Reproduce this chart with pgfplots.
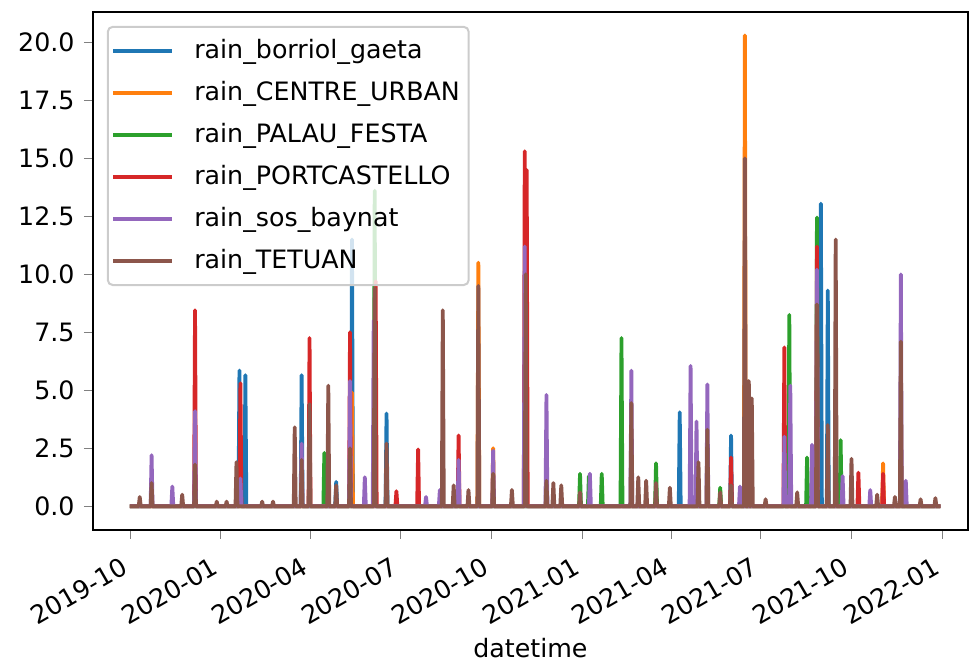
\documentclass[border=0pt]{standalone}
\usepackage{fontspec}
\setmainfont{DejaVu Sans}
\usepackage{pgfplots}
\pgfplotsset{compat=1.18}

% tab10 palette
\definecolor{c0}{HTML}{1F77B4}
\definecolor{c1}{HTML}{FF7F0E}
\definecolor{c2}{HTML}{2CA02C}
\definecolor{c3}{HTML}{D62728}
\definecolor{c4}{HTML}{9467BD}
\definecolor{c5}{HTML}{8C564B}
\definecolor{legframe}{gray}{0.8}

% short horizontal stroke as legend sample, with room before the text
\pgfplotsset{legend image code/.code={\draw[#1, line width=1.5pt] (0pt,0pt) -- (23.3pt,0pt); \path (29.2pt,0pt);}}

% x = days since 2019-10-01
\begin{document}
\begin{tikzpicture}
\begin{axis}[
  name=ax,
  scale only axis,
  width=345.9pt, height=204.7pt,
  xmin=-37.5, xmax=849,
  ymin=-1.015, ymax=21.315,
  line width=0.8pt,
  tick align=outside,
  xtick pos=bottom, ytick pos=left,
  major tick length=3.5pt,
  xtick={0,92,183,274,366,458,548,639,731,823},
  xticklabels={2019-10,2020-01,2020-04,2020-07,2020-10,2021-01,2021-04,2021-07,2021-10,2022-01},
  xticklabel style={xshift=-3.5pt, yshift=-5pt, rotate=30, anchor=north east, inner sep=1pt},
  ytick={0,2.5,5,7.5,10,12.5,15,17.5,20},
  yticklabel style={/pgf/number format/.cd, fixed, fixed zerofill, precision=1, assume math mode=true},
  xlabel={datetime},
  every axis plot/.append style={line width=1.5pt, line join=round, mark=none},
  legend cell align=left,
  legend style={at={(0,1)}, anchor=north west, xshift=5.5pt, yshift=-5.5pt,
    draw=legframe, line width=0.8pt, fill=white, fill opacity=0.8, text opacity=1,
    rounded corners=2pt, inner xsep=1.5pt, inner ysep=3pt, row sep=3.5pt,
    font=\fontsize{10}{12}\selectfont},
]
\addplot[c0] coordinates {
(0,0) (21,0)(22,0.3)(23,0) (110,0)(111,5.85)(112,0) (116,0)(117,5.65)(118,0)
(173,0)(174,5.65)(175,0) (208,0)(209,1.05)(210,0) (224,0)(225,11.5)(226,0)
(259,0)(260,4.0)(261,0) (556,0)(557,4.05)(558,0) (608,0)(609,3.05)(610,0)
(699,0)(700,13.05)(701,0) (706,0)(707,9.3)(708,0) (821,0)};
\addlegendentry{rain\_borriol\_gaeta}

\addplot[c1] coordinates {
(0,0) (224,0)(225,4.9)(226,0) (352,0)(353,10.5)(354,0) (367,0)(368,2.5)(369,0)
(622,0)(623,20.3)(624,0) (762,0)(763,1.85)(764,0) (821,0)};
\addlegendentry{rain\_CENTRE\_URBAN}

\addplot[c2] coordinates {
(0,0) (196,0)(197,2.3)(198,0) (247,0)(248,13.6)(249,0) (455,0)(456,1.4)(457,0)
(464,0)(465,1.3)(466,0) (477,0)(478,1.4)(479,0) (497,0)(498,7.25)(499,0)
(532,0)(533,1.85)(534,0) (597,0)(598,0.8)(599,0) (667,0)(668,8.25)(669,0)
(685,0)(686,2.1)(687,0) (695,0)(696,12.45)(697,0) (719,0)(720,2.85)(721,0) (821,0)};
\addlegendentry{rain\_PALAU\_FESTA}

\addplot[c3] coordinates {
(0,0) (65,0)(66,8.45)(67,0) (111,0)(112,5.3)(113,0) (181,0)(182,7.25)(183,0)
(222,0)(223,7.5)(224,0) (248,0)(249,9.7)(250,0) (269,0)(270,0.65)(271,0)
(291,0)(292,2.45)(293,0) (332,0)(333,3.05)(334,0) (399,0)(400,15.3)(401,0)(402,14.5)(403,0)
(608,0)(609,2.1)(610,0) (662,0)(663,6.85)(664,0) (695,0)(696,11.2)(697,0)
(737,0)(738,1.45)(739,0) (762,0)(763,1.4)(764,0) (821,0)};
\addlegendentry{rain\_PORTCASTELLO}

\addplot[c4] coordinates {
(0,0) (21,0)(22,2.2)(23,0) (42,0)(43,0.85)(44,0) (65,0)(66,4.1)(67,0)
(111,0)(112,1.2)(113,0) (173,0)(174,2.7)(175,0) (222,0)(223,5.4)(224,0)
(237,0)(238,1.25)(239,0) (246,0)(247,8.0)(248,0) (299,0)(300,0.4)(301,0)
(313,0)(314,0.7)(315,0) (332,0)(333,2.0)(334,0) (367,0)(368,2.4)(369,0)
(399,0)(400,11.2)(401,0) (421,0)(422,4.8)(423,0) (465,0)(466,1.4)(467,0)
(507,0)(508,5.85)(509,0) (567,0)(568,6.05)(569,0) (573,0)(574,3.65)(575,0)
(584,0)(585,5.25)(586,0) (617,0)(618,0.85)(619,0) (662,0)(663,3.0)(664,0)
(668,0)(669,5.2)(670,0) (690,0)(691,2.65)(692,0) (695,0)(696,10.2)(697,0)
(721,0)(722,1.3)(723,0) (749,0)(750,0.7)(751,0) (780,0)(781,10.0)(782,0)
(785,0)(786,1.1)(787,0) (821,0)};
\addlegendentry{rain\_sos\_baynat}

\addplot[c5] coordinates {
(0,0) (9,0)(10,0.4)(11,0) (21,0)(22,1.0)(23,0) (52,0)(53,0.5)(54,0)
(65,0)(66,1.8)(67,0) (87,0)(88,0.2)(89,0) (97,0)(98,0.2)(99,0)
(107,0)(108,1.9)(109,0) (133,0)(134,0.2)(135,0) (144,0)(145,0.2)(146,0)
(166,0)(167,3.4)(168,0) (173,0)(174,2.0)(175,0) (181,0)(182,4.4)(183,0)
(200,0)(201,5.2)(202,0) (208,0)(209,0.9)(210,0) (222,0)(223,2.5)(224,0)
(247,0)(248,9.4)(249,0) (259,0)(260,2.7)(261,0) (316,0)(317,8.45)(318,0)
(327,0)(328,0.9)(329,0) (342,0)(343,0.7)(344,0) (352,0)(353,9.5)(354,0)
(367,0)(368,1.4)(369,0) (386,0)(387,0.7)(388,0) (400,0)(401,10.0)(402,0)
(421,0)(422,1.1)(423,0) (428,0)(429,1.0)(430,0) (436,0)(437,0.9)(438,0)
(455,0)(456,0.6)(457,0) (507,0)(508,4.45)(509,0) (514,0)(515,1.25)(516,0)
(522,0)(523,1.1)(524,0) (532,0)(533,1.0)(534,0) (546,0)(547,0.8)(548,0)
(575,0)(576,1.9)(577,0) (584,0)(585,3.3)(586,0) (597,0)(598,0.6)(599,0)
(608,0)(609,0.9)(610,0) (622,0)(623,15.0)(624,0) (626,0)(627,5.4)(628,0)
(629,0)(630,4.65)(631,0) (643,0)(644,0.3)(645,0) (675,0)(676,0.6)(677,0)
(695,0)(696,8.7)(697,0) (706,0)(707,3.5)(708,0) (714,0)(715,11.5)(716,0)
(730,0)(731,2.05)(732,0) (756,0)(757,0.5)(758,0) (774,0)(775,0.4)(776,0)
(780,0)(781,7.1)(782,0) (800,0)(801,0.3)(802,0) (815,0)(816,0.35)(817,0) (821,0)};
\addlegendentry{rain\_TETUAN}
\end{axis}
\pgfresetboundingbox
\path[use as bounding box] ([shift={(-36.7pt,-54.5pt)}]ax.south west) rectangle ([shift={(1.2pt,4.7pt)}]ax.north east);
\end{tikzpicture}
\end{document}
